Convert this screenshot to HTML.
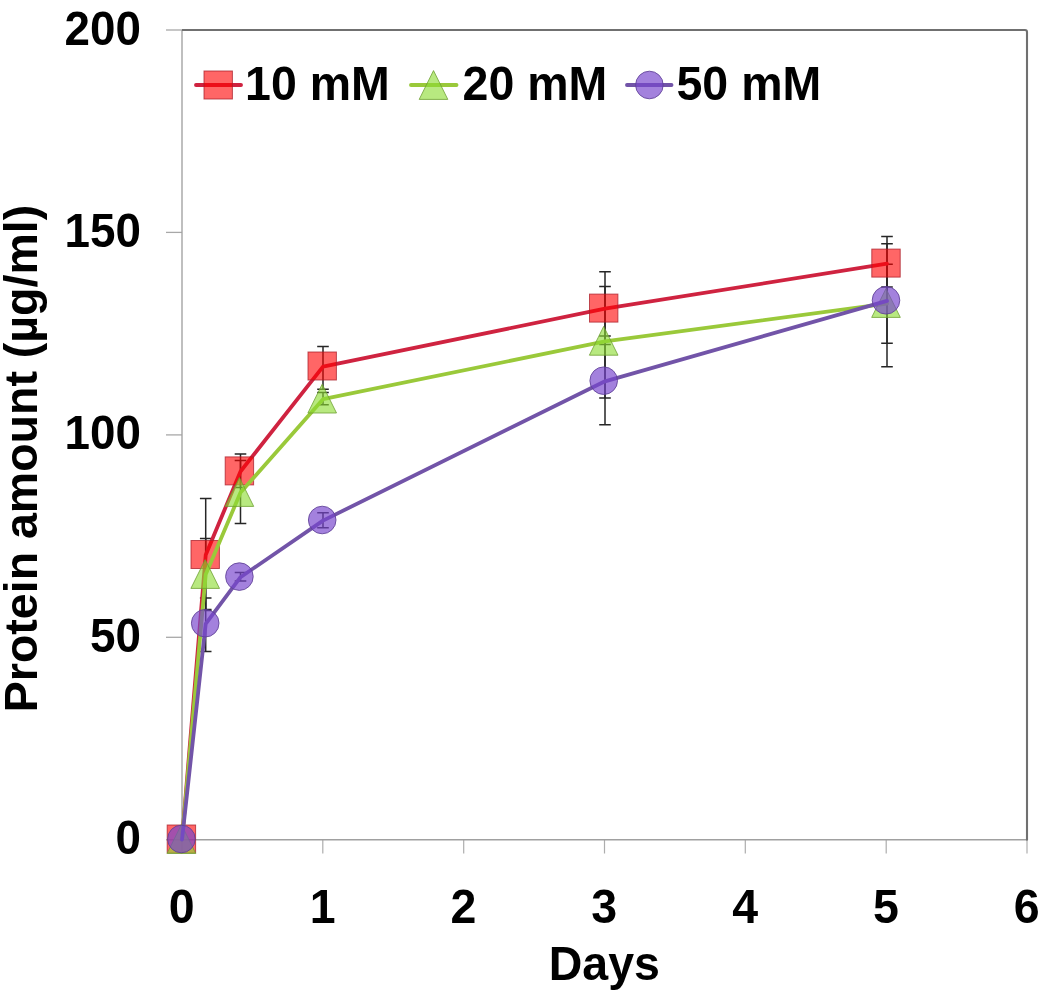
<!DOCTYPE html>
<html lang="en"><head><meta charset="utf-8"><title>Protein amount vs Days</title>
<style>html,body{margin:0;padding:0;background:#fff;overflow:hidden}svg{display:block;will-change:transform}text{font-family:"Liberation Sans", sans-serif;font-weight:bold;fill:#000}</style></head><body>
<svg width="1050" height="997" viewBox="0 0 1050 997">
<rect width="1050" height="997" fill="#fff"/>
<g fill="none" stroke-linecap="butt">
<line x1="166" x2="182.0" y1="839.8" y2="839.8" stroke="#a8a8a8" stroke-width="1.3"/>
<line x1="166" x2="182.0" y1="637.3" y2="637.3" stroke="#a8a8a8" stroke-width="1.3"/>
<line x1="166" x2="182.0" y1="434.9" y2="434.9" stroke="#a8a8a8" stroke-width="1.3"/>
<line x1="166" x2="182.0" y1="232.4" y2="232.4" stroke="#a8a8a8" stroke-width="1.3"/>
<line x1="166" x2="182.0" y1="30.0" y2="30.0" stroke="#a8a8a8" stroke-width="1.3"/>
<line x1="182.0" x2="182.0" y1="839.8" y2="853.5" stroke="#adadad" stroke-width="1.2"/>
<line x1="322.8" x2="322.8" y1="839.8" y2="853.5" stroke="#adadad" stroke-width="1.2"/>
<line x1="463.7" x2="463.7" y1="839.8" y2="853.5" stroke="#adadad" stroke-width="1.2"/>
<line x1="604.5" x2="604.5" y1="839.8" y2="853.5" stroke="#adadad" stroke-width="1.2"/>
<line x1="745.3" x2="745.3" y1="839.8" y2="853.5" stroke="#adadad" stroke-width="1.2"/>
<line x1="886.2" x2="886.2" y1="839.8" y2="853.5" stroke="#adadad" stroke-width="1.2"/>
<line x1="1027.0" x2="1027.0" y1="839.8" y2="853.5" stroke="#adadad" stroke-width="1.2"/>
<line x1="182.0" x2="182.0" y1="30.0" y2="839.8" stroke="#a0a0a0" stroke-width="1.35"/>
<line x1="182.0" x2="1027.0" y1="839.8" y2="839.8" stroke="#a0a0a0" stroke-width="1.6"/>
<path d="M182.0 30.0 H1025.0 Q1027.0 30.0 1027.0 32.0 V840.6" stroke="#707070" stroke-width="2.1"/>
</g>
<g>
<path d="M205.7 498.4V610.6M199.9 498.4h11.6M199.9 610.6h11.6" fill="none" stroke="#262626" stroke-width="1.5"/>
<path d="M240.5 454.0V487.4M234.7 454.0h11.6M234.7 487.4h11.6" fill="none" stroke="#262626" stroke-width="1.5"/>
<path d="M323.0 346.5V389.2M317.2 346.5h11.6M317.2 389.2h11.6" fill="none" stroke="#262626" stroke-width="1.5"/>
<path d="M605.0 271.8V344.4M599.2 271.8h11.6M599.2 344.4h11.6" fill="none" stroke="#262626" stroke-width="1.5"/>
<path d="M887.0 243.8V286.9M881.2 243.8h11.6M881.2 286.9h11.6" fill="none" stroke="#262626" stroke-width="1.5"/>
<path d="M205.7 538.6V609.4M199.9 538.6h11.6M199.9 609.4h11.6" fill="none" stroke="#262626" stroke-width="1.5"/>
<path d="M240.5 460.6V523.4M234.7 460.6h11.6M234.7 523.4h11.6" fill="none" stroke="#262626" stroke-width="1.5"/>
<path d="M323.0 392.5V404.7M317.2 392.5h11.6M317.2 404.7h11.6" fill="none" stroke="#262626" stroke-width="1.5"/>
<path d="M605.0 286.5V397.9M599.2 286.5h11.6M599.2 397.9h11.6" fill="none" stroke="#262626" stroke-width="1.5"/>
<path d="M887.0 236.5V366.7M881.2 236.5h11.6M881.2 366.7h11.6" fill="none" stroke="#262626" stroke-width="1.5"/>
<path d="M205.7 598.0V651.4M199.9 598.0h11.6M199.9 651.4h11.6" fill="none" stroke="#262626" stroke-width="1.5"/>
<path d="M240.5 572.5V581.0M234.7 572.5h11.6M234.7 581.0h11.6" fill="none" stroke="#262626" stroke-width="1.5"/>
<path d="M323.0 512.8V527.7M317.2 512.8h11.6M317.2 527.7h11.6" fill="none" stroke="#262626" stroke-width="1.5"/>
<path d="M605.0 336.0V424.8M599.2 336.0h11.6M599.2 424.8h11.6" fill="none" stroke="#262626" stroke-width="1.5"/>
<path d="M887.0 264.2V343.3M881.2 264.2h11.6M881.2 343.3h11.6" fill="none" stroke="#262626" stroke-width="1.5"/>
</g><g>
<polyline points="182.0,839.6 205.7,555.1 240.5,471.5 323.0,366.6 605.0,308.7 887.0,263.7" fill="none" stroke="#cf2340" stroke-width="3.8" stroke-linejoin="round" stroke-linecap="round"/>
<rect x="167.2" y="825.0" width="28.4" height="28" fill="rgba(255,0,0,0.60)" stroke="rgba(170,30,40,0.75)" stroke-width="1"/>
<rect x="191.0" y="540.5" width="28.4" height="28" fill="rgba(255,0,0,0.60)" stroke="rgba(170,30,40,0.75)" stroke-width="1"/>
<rect x="225.2" y="456.9" width="28.4" height="28" fill="rgba(255,0,0,0.60)" stroke="rgba(170,30,40,0.75)" stroke-width="1"/>
<rect x="308.0" y="352.0" width="28.4" height="28" fill="rgba(255,0,0,0.60)" stroke="rgba(170,30,40,0.75)" stroke-width="1"/>
<rect x="589.5" y="294.1" width="28.4" height="28" fill="rgba(255,0,0,0.60)" stroke="rgba(170,30,40,0.75)" stroke-width="1"/>
<rect x="871.8" y="249.1" width="28.4" height="28" fill="rgba(255,0,0,0.60)" stroke="rgba(170,30,40,0.75)" stroke-width="1"/>
</g><g>
<polyline points="182.0,839.6 205.7,574.6 240.5,492.6 323.0,399.2 605.0,341.4 887.0,303.6" fill="none" stroke="#9ac93a" stroke-width="3.8" stroke-linejoin="round" stroke-linecap="round"/>
<path d="M181.4 824.6L195.7 853.4L167.1 853.4Z" fill="rgba(140,220,50,0.62)" stroke="rgba(110,160,50,0.8)" stroke-width="1"/>
<path d="M205.2 559.6L219.5 588.4L190.9 588.4Z" fill="rgba(140,220,50,0.62)" stroke="rgba(110,160,50,0.8)" stroke-width="1"/>
<path d="M239.4 477.6L253.7 506.4L225.1 506.4Z" fill="rgba(140,220,50,0.62)" stroke="rgba(110,160,50,0.8)" stroke-width="1"/>
<path d="M322.2 384.2L336.5 413.0L307.9 413.0Z" fill="rgba(140,220,50,0.62)" stroke="rgba(110,160,50,0.8)" stroke-width="1"/>
<path d="M603.7 326.4L618.0 355.2L589.4 355.2Z" fill="rgba(140,220,50,0.62)" stroke="rgba(110,160,50,0.8)" stroke-width="1"/>
<path d="M886.0 288.6L900.3 317.4L871.7 317.4Z" fill="rgba(140,220,50,0.62)" stroke="rgba(110,160,50,0.8)" stroke-width="1"/>
</g><g>
<polyline points="182.0,839.6 205.7,623.8 240.5,577.2 323.0,520.6 605.0,381.3 887.0,300.9" fill="none" stroke="#7254a8" stroke-width="3.8" stroke-linejoin="round" stroke-linecap="round"/>
<circle cx="181.4" cy="839.0" r="13.8" fill="rgba(120,70,205,0.68)" stroke="rgba(95,65,150,0.85)" stroke-width="1"/>
<circle cx="205.2" cy="623.2" r="13.8" fill="rgba(120,70,205,0.68)" stroke="rgba(95,65,150,0.85)" stroke-width="1"/>
<circle cx="239.4" cy="576.6" r="13.8" fill="rgba(120,70,205,0.68)" stroke="rgba(95,65,150,0.85)" stroke-width="1"/>
<circle cx="322.2" cy="520.0" r="13.8" fill="rgba(120,70,205,0.68)" stroke="rgba(95,65,150,0.85)" stroke-width="1"/>
<circle cx="603.7" cy="380.7" r="13.8" fill="rgba(120,70,205,0.68)" stroke="rgba(95,65,150,0.85)" stroke-width="1"/>
<circle cx="886.0" cy="300.3" r="13.8" fill="rgba(120,70,205,0.68)" stroke="rgba(95,65,150,0.85)" stroke-width="1"/>
</g>
<line x1="196.0" x2="241.0" y1="85.0" y2="85.0" stroke="#cf2340" stroke-width="3.9" stroke-linecap="round"/>
<rect x="204.0" y="71.0" width="28.4" height="28" fill="rgba(255,0,0,0.60)" stroke="rgba(170,30,40,0.75)" stroke-width="1"/>
<line x1="411.0" x2="456.5" y1="85.0" y2="85.0" stroke="#9ac93a" stroke-width="3.9" stroke-linecap="round"/>
<path d="M433.5 70.6L447.8 99.4L419.2 99.4Z" fill="rgba(140,220,50,0.62)" stroke="rgba(110,160,50,0.8)" stroke-width="1"/>
<line x1="627.0" x2="671.5" y1="85.0" y2="85.0" stroke="#7254a8" stroke-width="3.9" stroke-linecap="round"/>
<circle cx="649.4" cy="85.0" r="13.8" fill="rgba(120,70,205,0.68)" stroke="rgba(95,65,150,0.85)" stroke-width="1"/>
<g font-size="46.5px">
<text transform="translate(245.1 100.2) scale(1 1.035)">10 mM</text>
<text transform="translate(462.6 100.2) scale(1 1.035)">20 mM</text>
<text transform="translate(676.5 100.2) scale(1 1.035)">50 mM</text>
</g>
<g font-size="46.5px" text-anchor="end">
<text transform="translate(141 44.8) scale(0.985 1.035)">200</text>
<text transform="translate(141 247.4) scale(0.985 1.035)">150</text>
<text transform="translate(141 448.8) scale(0.985 1.035)">100</text>
<text transform="translate(141 651.5) scale(0.985 1.035)">50</text>
<text transform="translate(141 854.2) scale(0.985 1.035)">0</text>
</g>
<g font-size="46.5px" text-anchor="middle">
<text transform="translate(181.8 922.6) scale(1 1.035)">0</text>
<text transform="translate(322.6 922.6) scale(1 1.035)">1</text>
<text transform="translate(463.5 922.6) scale(1 1.035)">2</text>
<text transform="translate(604.3 922.6) scale(1 1.035)">3</text>
<text transform="translate(745.1 922.6) scale(1 1.035)">4</text>
<text transform="translate(886.0 922.6) scale(1 1.035)">5</text>
<text transform="translate(1026.8 922.6) scale(1 1.035)">6</text>
<text transform="translate(604.3 980.4) scale(1 1.03)">Days</text>
<text transform="translate(36.9 458.5) rotate(-90)">Protein amount (µg/ml)</text>
</g>
</svg></body></html>
